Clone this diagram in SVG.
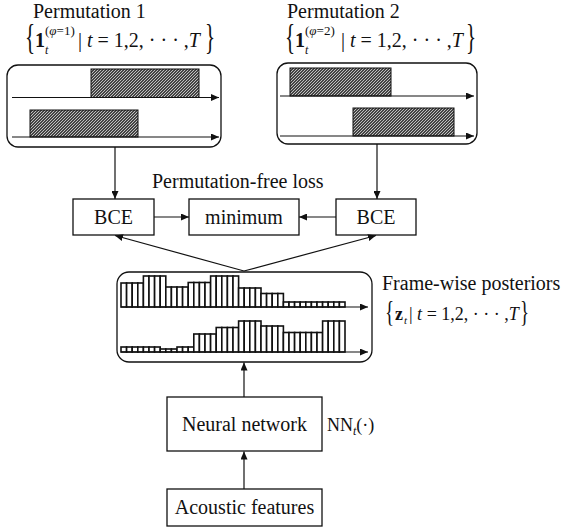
<svg xmlns="http://www.w3.org/2000/svg" width="563" height="528" viewBox="0 0 563 528" font-size="20">
<style>
text{font-family:"Liberation Serif","Times New Roman",serif;fill:#111}
.c{text-anchor:middle}
.it{font-style:italic}
.bd{font-weight:bold}
.box{fill:#fff;stroke:#111;stroke-width:1.3}
.rbox{fill:#fff;stroke:#111;stroke-width:1.3}
.h{fill:url(#hatch);stroke:#111;stroke-width:1}
.b{fill:#fff;stroke:#111;stroke-width:1.6}
.ax{stroke:#111;stroke-width:1.2;fill:none;marker-end:url(#ah)}
</style>
<defs>
<marker id="ah" markerUnits="userSpaceOnUse" markerWidth="9" markerHeight="7" refX="8" refY="3.5" orient="auto">
<path d="M0,0 L8,3.5 L0,7 Z" fill="#111"/>
</marker>
<pattern id="hatch" patternUnits="userSpaceOnUse" width="3" height="3">
<rect width="3" height="3" fill="#444"/>
<path d="M-1,1 L1,-1 M0,3 L3,0 M2,4 L4,2" stroke="#e0e0e0" stroke-width="0.8"/>
</pattern>
</defs>

<g id="perm1">
<text x="33" y="18">Permutation 1</text>
<g id="perm1-formula">
<text transform="translate(25,49) scale(1,1.68)" font-size="21">{</text>
<text x="35" y="47" class="bd">1</text>
<text x="45" y="35" font-size="13">(<tspan class="it">φ</tspan>=1)</text>
<text x="45" y="54" font-size="12" class="it">t</text>
<text x="78" y="47">| <tspan class="it">t</tspan> = 1,2, · · · ,<tspan class="it">T</tspan></text>
<text transform="translate(205,49) scale(1,1.68)" font-size="21">}</text>
</g>
<rect class="rbox" x="7" y="65" width="214" height="82" rx="11"/>
<rect class="h" x="91" y="69" width="108" height="28.5"/>
<rect class="h" x="30" y="110" width="108" height="27"/>
<line class="ax" x1="12" y1="97.5" x2="219" y2="97.5"/>
<line class="ax" x1="12" y1="137" x2="219" y2="137"/>
</g>

<g id="perm2">
<text x="287" y="18">Permutation 2</text>
<g id="perm2-formula" transform="translate(260,0)">
<text transform="translate(25,49) scale(1,1.68)" font-size="21">{</text>
<text x="35" y="47" class="bd">1</text>
<text x="45" y="35" font-size="13">(<tspan class="it">φ</tspan>=2)</text>
<text x="45" y="54" font-size="12" class="it">t</text>
<text x="81" y="47">| <tspan class="it">t</tspan> = 1,2, · · · ,<tspan class="it">T</tspan></text>
<text transform="translate(206,49) scale(1,1.68)" font-size="21">}</text>
</g>
<rect class="rbox" x="277" y="63" width="200" height="81" rx="11"/>
<rect class="h" x="290" y="68" width="101" height="28"/>
<rect class="h" x="353" y="108" width="101" height="28"/>
<line class="ax" x1="280" y1="96" x2="474" y2="96"/>
<line class="ax" x1="280" y1="136" x2="474" y2="136"/>
</g>

<text id="pfl-label" x="152" y="188">Permutation-free loss</text>

<g id="bce1">
<rect class="box" x="73" y="199" width="81" height="36"/>
<text class="c" x="113.5" y="224">BCE</text>
</g>
<g id="minimum">
<rect class="box" x="189" y="199" width="110" height="36"/>
<text class="c" x="244" y="224">minimum</text>
</g>
<g id="bce2">
<rect class="box" x="336" y="199" width="80" height="36"/>
<text class="c" x="376" y="224">BCE</text>
</g>

<g id="posteriors">
<rect class="rbox" x="117" y="272" width="255" height="90" rx="12"/>
<g id="top-bars">
<rect class="b" x="121" y="283" width="5.6" height="24"/>
<rect class="b" x="126.6" y="283" width="5.6" height="24"/>
<rect class="b" x="132.2" y="283" width="5.6" height="24"/>
<rect class="b" x="137.8" y="283" width="5.6" height="24"/>
<rect class="b" x="143.4" y="276" width="5.6" height="31"/>
<rect class="b" x="149" y="276" width="5.6" height="31"/>
<rect class="b" x="154.6" y="276" width="5.6" height="31"/>
<rect class="b" x="160.2" y="276" width="5.6" height="31"/>
<rect class="b" x="165.8" y="287" width="5.6" height="20"/>
<rect class="b" x="171.4" y="287" width="5.6" height="20"/>
<rect class="b" x="177" y="287" width="5.6" height="20"/>
<rect class="b" x="182.6" y="287" width="5.6" height="20"/>
<rect class="b" x="188.2" y="282.5" width="5.6" height="24.5"/>
<rect class="b" x="193.8" y="282.5" width="5.6" height="24.5"/>
<rect class="b" x="199.4" y="282.5" width="5.6" height="24.5"/>
<rect class="b" x="205" y="282.5" width="5.6" height="24.5"/>
<rect class="b" x="210.6" y="276" width="5.6" height="31"/>
<rect class="b" x="216.2" y="276" width="5.6" height="31"/>
<rect class="b" x="221.8" y="276" width="5.6" height="31"/>
<rect class="b" x="227.4" y="276" width="5.6" height="31"/>
<rect class="b" x="233" y="276" width="5.6" height="31"/>
<rect class="b" x="238.6" y="288" width="5.6" height="19"/>
<rect class="b" x="244.2" y="288" width="5.6" height="19"/>
<rect class="b" x="249.8" y="288" width="5.6" height="19"/>
<rect class="b" x="255.4" y="288" width="5.6" height="19"/>
<rect class="b" x="261" y="293.5" width="5.6" height="13.5"/>
<rect class="b" x="266.6" y="293.5" width="5.6" height="13.5"/>
<rect class="b" x="272.2" y="293.5" width="5.6" height="13.5"/>
<rect class="b" x="277.8" y="293.5" width="5.6" height="13.5"/>
<rect class="b" x="283.4" y="302" width="5.6" height="5"/>
<rect class="b" x="289" y="302" width="5.6" height="5"/>
<rect class="b" x="294.6" y="302" width="5.6" height="5"/>
<rect class="b" x="300.2" y="302" width="5.6" height="5"/>
<rect class="b" x="305.8" y="302" width="5.6" height="5"/>
<rect class="b" x="311.4" y="302" width="5.6" height="5"/>
<rect class="b" x="317" y="302" width="5.6" height="5"/>
<rect class="b" x="322.6" y="302" width="5.6" height="5"/>
<rect class="b" x="328.2" y="302" width="5.6" height="5"/>
<rect class="b" x="333.8" y="302" width="5.6" height="5"/>
<rect class="b" x="339.4" y="302" width="5.6" height="5"/>
</g>
<g id="bottom-bars">
<rect class="b" x="121" y="347" width="5.6" height="5"/>
<rect class="b" x="126.6" y="347" width="5.6" height="5"/>
<rect class="b" x="132.2" y="347" width="5.6" height="5"/>
<rect class="b" x="137.8" y="347" width="5.6" height="5"/>
<rect class="b" x="143.4" y="347" width="5.6" height="5"/>
<rect class="b" x="149" y="347" width="5.6" height="5"/>
<rect class="b" x="154.6" y="347" width="5.6" height="5"/>
<rect class="b" x="160.2" y="349" width="5.6" height="3"/>
<rect class="b" x="165.8" y="349" width="5.6" height="3"/>
<rect class="b" x="171.4" y="349" width="5.6" height="3"/>
<rect class="b" x="177" y="347" width="5.6" height="5"/>
<rect class="b" x="182.6" y="347" width="5.6" height="5"/>
<rect class="b" x="188.2" y="347" width="5.6" height="5"/>
<rect class="b" x="193.8" y="334" width="5.6" height="18"/>
<rect class="b" x="199.4" y="334" width="5.6" height="18"/>
<rect class="b" x="205" y="334" width="5.6" height="18"/>
<rect class="b" x="210.6" y="334" width="5.6" height="18"/>
<rect class="b" x="216.2" y="327.5" width="5.6" height="24.5"/>
<rect class="b" x="221.8" y="327.5" width="5.6" height="24.5"/>
<rect class="b" x="227.4" y="327.5" width="5.6" height="24.5"/>
<rect class="b" x="233" y="327.5" width="5.6" height="24.5"/>
<rect class="b" x="238.6" y="321" width="5.6" height="31"/>
<rect class="b" x="244.2" y="321" width="5.6" height="31"/>
<rect class="b" x="249.8" y="321" width="5.6" height="31"/>
<rect class="b" x="255.4" y="321" width="5.6" height="31"/>
<rect class="b" x="261" y="326" width="5.6" height="26"/>
<rect class="b" x="266.6" y="326" width="5.6" height="26"/>
<rect class="b" x="272.2" y="326" width="5.6" height="26"/>
<rect class="b" x="277.8" y="326" width="5.6" height="26"/>
<rect class="b" x="283.4" y="332.5" width="5.6" height="19.5"/>
<rect class="b" x="289" y="332.5" width="5.6" height="19.5"/>
<rect class="b" x="294.6" y="332.5" width="5.6" height="19.5"/>
<rect class="b" x="300.2" y="332.5" width="5.6" height="19.5"/>
<rect class="b" x="305.8" y="332.5" width="5.6" height="19.5"/>
<rect class="b" x="311.4" y="332.5" width="5.6" height="19.5"/>
<rect class="b" x="317" y="332.5" width="5.6" height="19.5"/>
<rect class="b" x="322.6" y="321" width="5.6" height="31"/>
<rect class="b" x="328.2" y="321" width="5.6" height="31"/>
<rect class="b" x="333.8" y="321" width="5.6" height="31"/>
<rect class="b" x="339.4" y="321" width="5.6" height="31"/>
</g>
<line class="ax" x1="121" y1="307" x2="368" y2="307"/>
<line class="ax" x1="121" y1="352" x2="368" y2="352"/>
</g>

<g id="posteriors-label">
<text x="382" y="290">Frame-wise posteriors</text>
<text transform="translate(385,321) scale(1,1.6)" font-size="19">{</text>
<text x="395" y="320" class="bd" font-size="18">z</text>
<text x="404" y="324" font-size="11" class="it">t</text>
<text x="409" y="320" font-size="18">| <tspan class="it">t</tspan> = 1,2, · · · ,<tspan class="it">T</tspan></text>
<text transform="translate(520,321) scale(1,1.6)" font-size="19">}</text>
</g>

<g id="nn">
<rect class="box" x="167" y="397" width="155" height="54"/>
<text class="c" x="244.5" y="431">Neural network</text>
</g>
<text id="nn-label" x="327" y="431" font-size="18">NN<tspan class="it" font-size="12" dy="4">t</tspan><tspan dy="-4">(·)</tspan></text>

<g id="acoustic">
<rect class="box" x="167" y="489" width="155" height="37"/>
<text class="c" x="244.5" y="514">Acoustic features</text>
</g>

<g id="connectors">
<line class="ax" x1="115" y1="147" x2="115" y2="199"/>
<line class="ax" x1="377" y1="144" x2="377" y2="199"/>
<line class="ax" x1="154" y1="217" x2="189" y2="217"/>
<line class="ax" x1="336" y1="217" x2="299" y2="217"/>
<line class="ax" x1="244" y1="271" x2="115" y2="235.5"/>
<line class="ax" x1="244" y1="271" x2="376" y2="235.5"/>
<line class="ax" x1="244" y1="397" x2="244" y2="362.5"/>
<line class="ax" x1="244" y1="489" x2="244" y2="451.5"/>
</g>
</svg>
